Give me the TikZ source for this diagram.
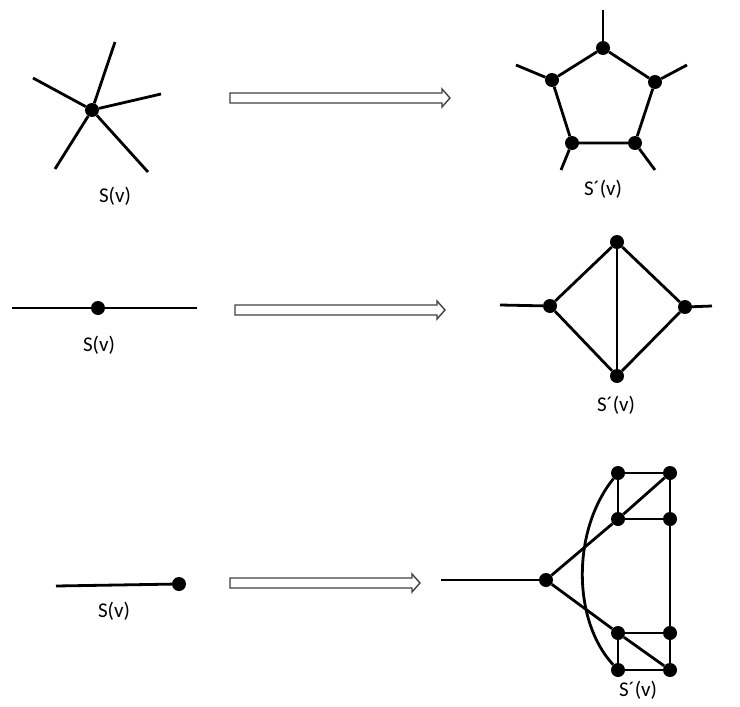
\documentclass[tikz,border=0pt]{standalone}
\usepackage{fontspec}
\setmainfont{Carlito}
\begin{document}
\begin{tikzpicture}[x=1pt,y=-1pt,
  v/.style={circle,fill=black,inner sep=0pt,minimum size=14pt},
  e/.style={line width=2.8pt},
  lbl/.style={font=\fontsize{21}{24}\selectfont},
  bigarrow/.style={draw=black!75,line width=1.4pt,fill=white,line join=miter}]
\useasboundingbox (0,0) rectangle (740,707);
% ---------- row 1 left: star
\node[v] (s) at (92,110) {};
\coordinate (s1) at (115,42);
\coordinate (s2) at (33,78);
\coordinate (s3) at (161,94);
\coordinate (s4) at (55,169);
\coordinate (s5) at (148,172);
\foreach \p in {s1,s2,s3,s4,s5} \draw[e] (s) -- (\p);
\node[lbl] (l1) at (115,196) {S(v)};
% arrow 1
\draw[bigarrow] (230,93) -- (442,93) -- (442,89) -- (450,98) -- (442,107) -- (442,103) -- (230,103) -- cycle;
% ---------- row 1 right: pentagon
\node[v] (p1) at (603,48) {};
\node[v] (p2) at (655,82) {};
\node[v] (p3) at (635,143) {};
\node[v] (p4) at (572,143) {};
\node[v] (p5) at (552,80) {};
\draw[e] (p1) -- (p2) -- (p3) -- (p4) -- (p5) -- (p1);
\coordinate (q1) at (603,10);
\coordinate (q2) at (687,65);
\coordinate (q3) at (655,170);
\coordinate (q4) at (561,170);
\coordinate (q5) at (516,65);
\draw[e] (p1) -- (q1);
\draw[e] (p2) -- (q2);
\draw[e] (p3) -- (q3);
\draw[e] (p4) -- (q4);
\draw[e] (p5) -- (q5);
\node[lbl] (l2) at (603,189) {S´(v)};
% ---------- row 2 left
\node[v] (m) at (98,308) {};
\coordinate (ma) at (12,308);
\coordinate (mb) at (197,308);
\draw[e] (ma) -- (m) -- (mb);
\node[lbl] (l3) at (99,345) {S(v)};
% arrow 2
\draw[bigarrow] (235,305) -- (437,305) -- (437,301) -- (445,310) -- (437,319) -- (437,315) -- (235,315) -- cycle;
% ---------- row 2 right: diamond
\node[v] (dl) at (550,306) {};
\node[v] (dt) at (617,242) {};
\node[v] (dr) at (685,307) {};
\node[v] (db) at (617,376) {};
\draw[e] (dl) -- (dt) -- (dr) -- (db) -- (dl);
\draw[e] (dt) -- (db);
\coordinate (da) at (500,305);
\coordinate (dz) at (712,306);
\draw[e] (da) -- (dl);
\draw[e] (dr) -- (dz);
\node[lbl] (l4) at (616,405) {S´(v)};
% ---------- row 3 left
\node[v] (b) at (179,584) {};
\coordinate (ba) at (56,586);
\draw[e] (ba) -- (b);
\node[lbl] (l5) at (114,611) {S(v)};
% arrow 3
\draw[bigarrow] (230,578) -- (412,578) -- (412,574) -- (420,583) -- (412,592) -- (412,588) -- (230,588) -- cycle;
% ---------- row 3 right
\node[v] (c) at (546,580) {};
\coordinate (ca) at (441,580);
\node[v] (tl) at (618,473) {};
\node[v] (tr) at (670,473) {};
\node[v] (ml) at (618,519) {};
\node[v] (mr) at (670,519) {};
\node[v] (nl) at (618,633) {};
\node[v] (nr) at (670,633) {};
\node[v] (bl) at (618,670) {};
\node[v] (br) at (670,670) {};
\draw[e] (ca) -- (c);
\draw[e] (c) -- (ml) -- (tr);
\draw[e] (c) -- (nl) -- (br);
\draw[e] (tl) -- (tr);
\draw[e] (tl) -- (ml);
\draw[e] (ml) -- (mr);
\draw[e] (tr) -- (mr) -- (nr) -- (br);
\draw[e] (nl) -- (nr);
\draw[e] (nl) -- (bl);
\draw[e] (bl) -- (br);
\draw[e] (tl) .. controls (572,530) and (572,620) .. (bl);
\node[lbl] (l6) at (638,690) {S´(v)};
\end{tikzpicture}
\end{document}
